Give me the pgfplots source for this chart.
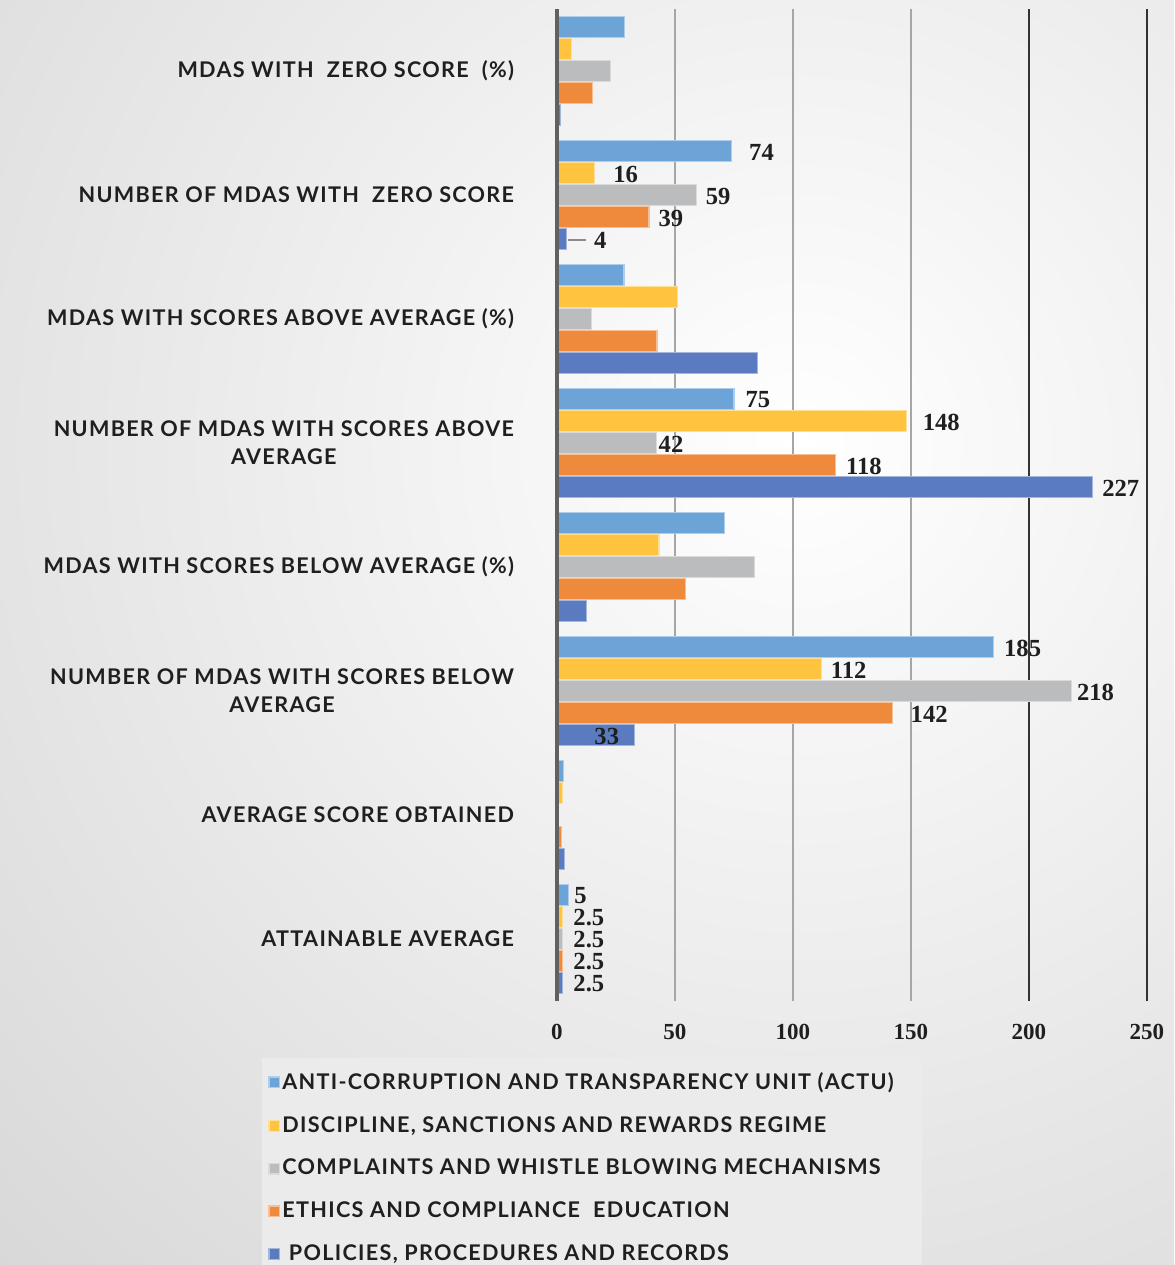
\documentclass[border=0pt]{standalone}
\usepackage{pgfplots}
\pgfplotsset{compat=1.18}
\usepackage{fontspec}
\setmainfont{Lato}[LetterSpace=6]
\newfontfamily\numfont{Liberation Serif}
\definecolor{cA}{HTML}{6CA4D8}
\definecolor{cB}{HTML}{FFC43F}
\definecolor{cC}{HTML}{BBBCBE}
\definecolor{cD}{HTML}{EF8A3C}
\definecolor{cE}{HTML}{5A7BBF}
\definecolor{txt}{HTML}{1F1F1F}

\begin{document}
\begin{tikzpicture}
\useasboundingbox (0,0) rectangle (587pt,632.5pt);
\clip (0,0) rectangle (587pt,632.5pt);
\fill[black!17] (0,0) rectangle (587pt,632.5pt);
\shade[inner color=white, outer color=black!17] (400pt,410pt) circle (640pt);
\begin{axis}[
  at={(278.5pt,132pt)}, anchor=south west,
  scale only axis, width=295pt, height=496pt,
  xmin=0, xmax=250, ymin=-0.5, ymax=7.5, y dir=reverse,
  clip=false,
  axis line style={draw=none},
  tick style={draw=none},
  xtick={0,50,...,250},
  ytick={0,...,7},
  yticklabels={
    MDAS WITH\ \ ZERO SCORE\ \ (\%),
    NUMBER OF MDAS WITH\ \ ZERO SCORE,
    MDAS WITH SCORES ABOVE AVERAGE (\%),
    {NUMBER OF MDAS WITH SCORES ABOVE\\AVERAGE},
    MDAS WITH SCORES BELOW AVERAGE (\%),
    {NUMBER OF MDAS WITH SCORES BELOW\\AVERAGE},
    AVERAGE SCORE OBTAINED,
    ATTAINABLE AVERAGE},
  yticklabel style={font=\bfseries\fontsize{10.8}{14}\selectfont, align=center, xshift=-18pt, text=txt},
  /pgf/number format/assume math mode=true,
  xticklabel style={font=\numfont\bfseries\fontsize{11.5}{12}\selectfont, yshift=-8pt, text=txt},
  xmajorgrids=true,
  major x grid style={black!35, line width=0.8pt},
  extra x ticks={200,250},
  extra x tick labels={},
  extra x tick style={xmajorgrids=true, major x grid style={black!80, line width=0.8pt}},
  nodes near coords align={horizontal},
  mybar/.style n args={2}{xbar, bar width=0.165, bar shift=#1, line width=0.6pt,
    nodes near coords, point meta=explicit symbolic,
    visualization depends on={\thisrow{dx} \as \dx},
    every node near coord/.append style={anchor=west, xshift=\dx pt, yshift=#2-0.5pt, inner sep=0pt,
      font=\numfont\bfseries\fontsize{12.3}{14}\selectfont, text=txt}},
  legend style={at={(-0.5,-0.0575)}, anchor=north west, fill=black!8, draw=none,
    font=\bfseries\fontsize{10.8}{12}\selectfont, text=txt, row sep=10pt,
    inner xsep=3pt, inner ysep=6pt, nodes={inner sep=1pt}},
  legend cell align=left,
  legend image code/.code={\fill[#1] (0pt,-2.7pt) rectangle (5.4pt,2.7pt);},
]
\addplot[mybar={-0.355}{22pt}, fill=cA, draw=cA!55!white] table[x=x, y=y, meta=lab] {
y x lab dx
0 28.5 {} 0
1 74 74 8.5
2 28.4 {} 0
3 75 75 5.5
4 70.9 {} 0
5 185 185 5
6 2.9 {} 0
7 5 5 2.5
};
\addlegendentry{ANTI-CORRUPTION AND TRANSPARENCY UNIT (ACTU)\rule{10pt}{0pt}}
\addplot[mybar={-0.1775}{11pt}, fill=cB, draw=cB!55!white] table[x=x, y=y, meta=lab] {
y x lab dx
0 6.2 {} 0
1 16 16 9
2 51 {} 0
3 148 148 8
4 43.2 {} 0
5 112 112 4.5
6 2.3 {} 0
7 2.5 2.5 5
};
\addlegendentry{DISCIPLINE, SANCTIONS AND REWARDS REGIME}
\addplot[mybar={0}{0pt}, fill=cC, draw=cC!55!white] table[x=x, y=y, meta=lab] {
y x lab dx
0 22.7 {} 0
1 59 59 4.5
2 14.5 {} 0
3 42 42 1
4 83.6 {} 0
5 218 218 2.5
6 0 {} 0
7 2.5 2.5 5
};
\addlegendentry{COMPLAINTS AND WHISTLE BLOWING MECHANISMS}
\addplot[mybar={0.1775}{-11pt}, fill=cD, draw=cD!55!white] table[x=x, y=y, meta=lab] {
y x lab dx
0 15.0 {} 0
1 39 39 4.5
2 42.4 {} 0
3 118 118 5
4 54.5 {} 0
5 142 142 9
6 2.0 {} 0
7 2.5 2.5 5
};
\addlegendentry{ETHICS AND COMPLIANCE\ \ EDUCATION}
\addplot[mybar={0.355}{-22pt}, fill=cE, draw=cE!55!white] table[x=x, y=y, meta=lab] {
y x lab dx
0 1.5 {} 0
1 4 {\textcolor{black!45}{\rule[0.28em]{9pt}{0.9pt}}\hspace{4pt}4} 0.5
2 84.9 {} 0
3 227 227 4.5
4 12.6 {} 0
5 33 33 -20.5
6 3.3 {} 0
7 2.5 2.5 5
};
\addlegendentry{\ POLICIES, PROCEDURES AND RECORDS}
\draw[black!62, line width=1.6pt] (rel axis cs:0,0) -- (rel axis cs:0,1);
\end{axis}
\end{tikzpicture}
\end{document}
